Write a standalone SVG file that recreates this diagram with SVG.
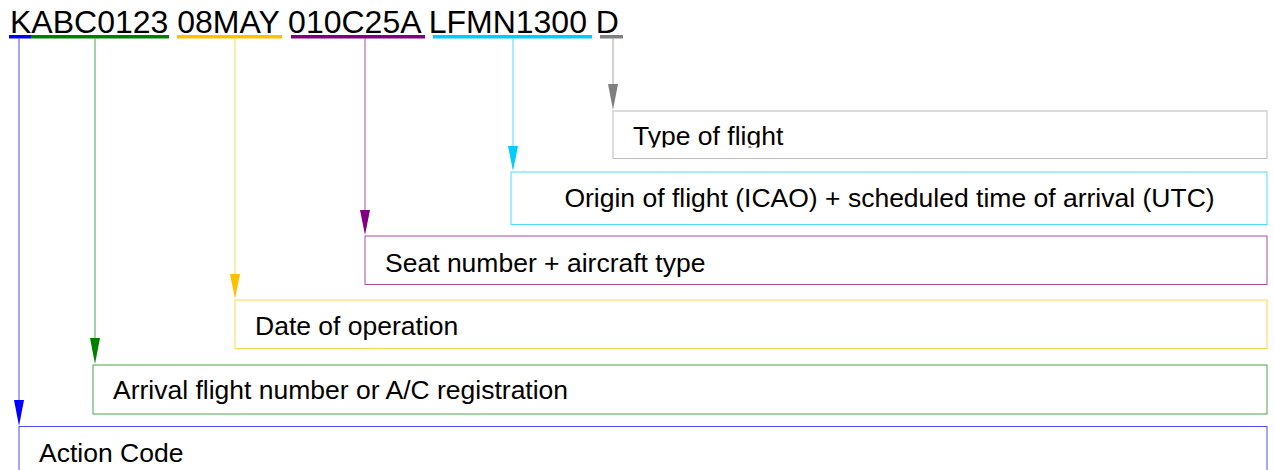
<svg xmlns="http://www.w3.org/2000/svg" width="1274" height="470" viewBox="0 0 1274 470">
<style>
text{font-family:"Liberation Sans",Arial,sans-serif;fill:#000}
.top{font-size:32px}
.lbl{font-size:26.5px}
.box{fill:#fff;stroke-width:1;stroke-opacity:0.7}
.ln{stroke-width:1;stroke-opacity:0.7;fill:none}
</style>
<defs>
<clipPath id="clipType"><rect x="613" y="111" width="654" height="36.5"/></clipPath>
</defs>
<g id="code">
<text class="top" x="10" y="33">KABC0123 08MAY 010C25A LFMN1300 D</text>
<rect x="9" y="35" width="22" height="3.5" fill="#0000ff"/>
<rect x="31" y="35" width="138" height="3.5" fill="#008000"/>
<rect x="177" y="35" width="105" height="3.5" fill="#ffc000"/>
<rect x="291" y="35" width="134" height="3.5" fill="#800080"/>
<rect x="433" y="35" width="159" height="3.5" fill="#00ccff"/>
<rect x="600" y="35" width="23" height="3.5" fill="#808080"/>
</g>
<g id="connectors">
<line class="ln" x1="613" y1="38.5" x2="613" y2="90" stroke="#808080"/>
<polygon points="608,84 618,84 613,110" fill="#808080"/>
<line class="ln" x1="513" y1="38.5" x2="513" y2="150" stroke="#00ccff"/>
<polygon points="508,146 518,146 513,171" fill="#00ccff"/>
<line class="ln" x1="365" y1="38.5" x2="365" y2="215" stroke="#800080"/>
<polygon points="360,210 370,210 365,235" fill="#800080"/>
<line class="ln" x1="235" y1="38.5" x2="235" y2="280" stroke="#ffc000"/>
<polygon points="230,274 240,274 235,299" fill="#ffc000"/>
<line class="ln" x1="95" y1="38.5" x2="95" y2="342" stroke="#008000"/>
<polygon points="90,338 100,338 95,364" fill="#008000"/>
<line class="ln" x1="19" y1="38.5" x2="19" y2="405" stroke="#0000ff"/>
<polygon points="14,400 24,400 19,426" fill="#0000ff"/>
</g>
<g id="type-of-flight">
<rect class="box" x="613" y="111" width="654" height="47.5" stroke="#a0a0a0"/>
<text class="lbl" x="633" y="145" clip-path="url(#clipType)">Type of flight</text>
</g>
<g id="origin">
<rect class="box" x="511" y="172" width="756" height="52.5" stroke="#00ccff"/>
<text class="lbl" x="889.5" y="207" text-anchor="middle">Origin of flight (ICAO) + scheduled time of arrival (UTC)</text>
</g>
<g id="seat">
<rect class="box" x="365" y="236" width="902" height="48.5" stroke="#800080"/>
<text class="lbl" x="385" y="272">Seat number + aircraft type</text>
</g>
<g id="date">
<rect class="box" x="235" y="300" width="1032" height="48.5" stroke="#ffc000"/>
<text class="lbl" x="255" y="335">Date of operation</text>
</g>
<g id="arrival">
<rect class="box" x="93" y="365" width="1174" height="49" stroke="#008000"/>
<text class="lbl" x="113" y="399">Arrival flight number or A/C registration</text>
</g>
<g id="action">
<rect class="box" x="19" y="426.5" width="1248" height="60" stroke="#0000ff"/>
<text class="lbl" x="39" y="462">Action Code</text>
</g>
</svg>
